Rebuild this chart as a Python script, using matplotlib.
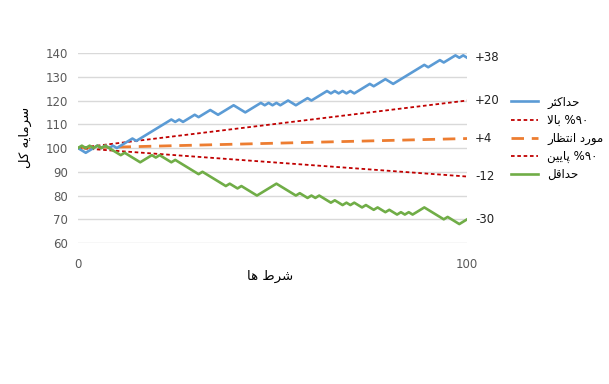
import matplotlib
matplotlib.use("Agg")
import matplotlib.pyplot as plt

# max / min walks at their turning points (bet number, capital)
max_bets = [0, 2, 5, 6, 7, 8, 9, 10, 14, 15, 24, 25, 26, 27, 30, 31, 34, 36, 40, 43,
            47, 48, 49, 50, 51, 52, 54, 56, 59, 60, 64, 65, 66, 67, 68, 69, 70, 71,
            75, 76, 79, 81, 89, 90, 93, 94, 97, 98, 99, 100]
max_vals = [100, 98, 101, 100, 101, 100, 101, 100, 104, 103, 112, 111, 112, 111, 114, 113,
            116, 114, 118, 115, 119, 118, 119, 118, 119, 118, 120, 118, 121, 120, 124, 123,
            124, 123, 124, 123, 124, 123, 127, 126, 129, 127, 135, 134, 137, 136, 139, 138,
            139, 138]

min_bets = [0, 1, 2, 3, 4, 5, 6, 7, 11, 12, 16, 19, 20, 21, 24, 25, 31, 32, 38, 39, 41,
            42, 46, 51, 56, 57, 59, 60, 61, 62, 65, 66, 68, 69, 70, 71, 73, 74, 76, 77,
            79, 80, 82, 83, 84, 85, 86, 89, 94, 95, 98, 100]
min_vals = [100, 101, 100, 101, 100, 101, 100, 101, 97, 98, 94, 97, 96, 97, 94, 95, 89,
            90, 84, 85, 83, 84, 80, 85, 80, 81, 79, 80, 79, 80, 77, 78, 76, 77, 76, 77,
            75, 76, 74, 75, 73, 74, 72, 73, 72, 73, 72, 75, 70, 71, 68, 70]

# straight guide lines: start and end values
line_bets = [0, 100]
upper90 = [100, 120]
expected = [100, 104]
lower90 = [100, 88]

end_values = [138, 120, 104, 88, 70]
end_labels = ["+38", "+20", "+4", "-12", "-30"]

legend_names = ["حداکثر", "۹۰% بالا", "مورد انتظار", "۹۰% پایین", "حداقل"]
y_title = "سرمایه کل"
x_title = "شرط ها"


# matplotlib has no arabic shaping, so build the visual (presentation form) string by hand
FORMS = {
    "ا": ("\uFE8D", "\uFE8E", None, None),
    "ب": ("\uFE8F", "\uFE90", "\uFE91", "\uFE92"),
    "پ": ("\uFB56", "\uFB57", "\uFB58", "\uFB59"),
    "ت": ("\uFE95", "\uFE96", "\uFE97", "\uFE98"),
    "ث": ("\uFE99", "\uFE9A", "\uFE9B", "\uFE9C"),
    "ح": ("\uFEA1", "\uFEA2", "\uFEA3", "\uFEA4"),
    "د": ("\uFEA9", "\uFEAA", None, None),
    "ر": ("\uFEAD", "\uFEAE", None, None),
    "س": ("\uFEB1", "\uFEB2", "\uFEB3", "\uFEB4"),
    "ش": ("\uFEB5", "\uFEB6", "\uFEB7", "\uFEB8"),
    "ط": ("\uFEC1", "\uFEC2", "\uFEC3", "\uFEC4"),
    "ظ": ("\uFEC5", "\uFEC6", "\uFEC7", "\uFEC8"),
    "ق": ("\uFED5", "\uFED6", "\uFED7", "\uFED8"),
    "ل": ("\uFEDD", "\uFEDE", "\uFEDF", "\uFEE0"),
    "م": ("\uFEE1", "\uFEE2", "\uFEE3", "\uFEE4"),
    "ن": ("\uFEE5", "\uFEE6", "\uFEE7", "\uFEE8"),
    "ه": ("\uFEE9", "\uFEEA", "\uFEEB", "\uFEEC"),
    "و": ("\uFEED", "\uFEEE", None, None),
    "ک": ("\uFB8E", "\uFB8F", "\uFB90", "\uFB91"),
    "ی": ("\uFBFC", "\uFBFD", "\uFBFE", "\uFBFF"),
}
DIGITS = "۰۱۲۳۴۵۶۷۸۹0123456789"


def dual(c):
    return c in FORMS and FORMS[c][2] is not None


def shape(text):
    out = []
    i = 0
    while i < len(text):
        c = text[i]
        if c not in FORMS:
            out.append(c)
            i += 1
            continue
        prev_joins = i > 0 and dual(text[i - 1])
        if c == "ل" and i + 1 < len(text) and text[i + 1] == "ا":
            out.append("\uFEFC" if prev_joins else "\uFEFB")
            i += 2
            continue
        next_joins = dual(c) and i + 1 < len(text) and text[i + 1] in FORMS
        iso, fin, ini, med = FORMS[c]
        if prev_joins and next_joins:
            out.append(med)
        elif prev_joins:
            out.append(fin)
        elif next_joins:
            out.append(ini)
        else:
            out.append(iso)
        i += 1
    # reverse for right-to-left, keep digit runs left-to-right
    vis = out[::-1]
    res = []
    run = []
    for c in vis:
        if c in DIGITS:
            run.append(c)
        else:
            res.extend(run[::-1])
            run = []
            res.append(c)
    res.extend(run[::-1])
    return "".join(res)


plt.rcParams["font.family"] = ["DejaVu Sans"]

fig = plt.figure(figsize=(6.09, 3.84), dpi=100)
ax = fig.add_axes([0.128, 0.367, 0.639, 0.495])

blue = "#5B9BD5"
green = "#70AD47"
orange = "#ED7D31"
red = "#C00000"

l1, = ax.plot(max_bets, max_vals, color=blue, lw=1.9, zorder=4)
l2, = ax.plot(line_bets, upper90, color=red, lw=1.3, ls=(0, (2.0, 1.5)), zorder=3)
l3, = ax.plot(line_bets, expected, color=orange, lw=2.0, ls=(0, (4.5, 2.8)), zorder=3)
l4, = ax.plot(line_bets, lower90, color=red, lw=1.3, ls=(0, (2.0, 1.5)), zorder=3)
l5, = ax.plot(min_bets, min_vals, color=green, lw=1.9, zorder=4)

for v, lab in zip(end_values, end_labels):
    ax.text(102.0, v, lab, ha="left", va="center", fontsize=8.5, color="#222222")

ax.set_xlim(0, 100)
ax.set_ylim(60, 140)
ax.set_yticks(range(60, 141, 10))
ax.set_xticks([0, 100])
ax.grid(axis="y", color="#d9d9d9", lw=1)
ax.set_axisbelow(True)
for s in ax.spines.values():
    s.set_visible(False)
ax.tick_params(axis="y", length=0, pad=7, labelsize=8.5, labelcolor="#595959")
ax.tick_params(axis="x", length=0, pad=11, labelsize=8.5, labelcolor="#595959")

fig.text(25 / 609, 1 - 137 / 384, shape(y_title), rotation=90, ha="center", va="center",
         fontsize=9.5)
fig.text(270 / 609, 1 - 276 / 384, shape(x_title), ha="center", va="center", fontsize=9.5)

fig.legend([l1, l2, l3, l4, l5], [shape(n) for n in legend_names],
           loc="upper left", bbox_to_anchor=(500 / 609, 1 - 85 / 384), frameon=False,
           fontsize=8.5, handlelength=2.3, handletextpad=0.8, labelspacing=0.42)

fig.savefig("out.png", dpi=100)
